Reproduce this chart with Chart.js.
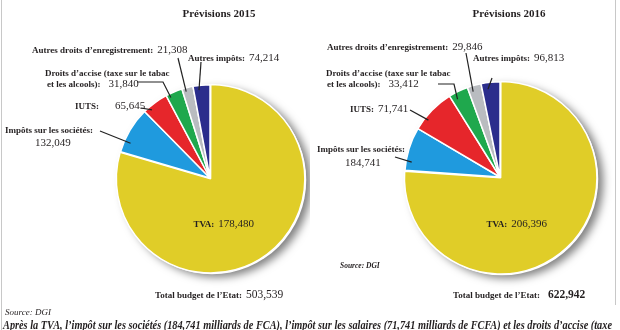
<!DOCTYPE html>
<html>
<head>
<meta charset="utf-8">
<script src="https://cdn.jsdelivr.net/npm/chart.js@4/dist/chart.umd.min.js"></script>
<style>
html, body { margin: 0; padding: 0; background: #fff; }
#page { position: relative; width: 620px; height: 330px; overflow: hidden; font-family: "Liberation Serif", "DejaVu Serif", serif; color: #231f20; }
canvas { position: absolute; top: 0; }
.t { position: absolute; white-space: nowrap; line-height: 12px; }
.b { font-weight: bold; font-size: 9px; }
.n { font-size: 11px; }
.title { font-weight: bold; font-size: 11px; }
.frame { position: absolute; top: 0; width: 1px; background: #c8c8c8; }
</style>
</head>
<body>
<div id="page">
  <div class="frame" style="left:1px;height:330px"></div>
  <div class="frame" style="left:615px;height:305px"></div>
  <div id="wrapL" style="position:absolute;left:0;top:0;width:310px;height:330px"><canvas id="pie2015"></canvas></div>
  <div id="wrapR" style="position:absolute;left:310px;top:0;width:310px;height:330px"><canvas id="pie2016"></canvas></div>
</div>
<script>
const categories = ['TVA', 'Impôts sur les sociétés', 'IUTS', 'Droits d’accise (taxe sur le tabac et les alcools)', 'Autres droits d’enregistrement', 'Autres impôts'];
const values2015 = [178480, 132049, 65645, 31840, 21308, 74214];
const values2016 = [206396, 184741, 71741, 33412, 29846, 96813];
const totals = [503539, 622942];
const years = ['2015', '2016'];
// angle (degrees) each slice takes in the original drawing, not proportional to the values
const shares2015 = [286, 29, 16.5, 10.5, 7, 10.5];
const shares2016 = [274, 26.5, 27.5, 12, 8.5, 11.5];
const colors = ['#e0cd28', '#1f9ade', '#e6262b', '#1fa84d', '#b9bcc0', '#2b2d8c'];

const fmt = v => v.toLocaleString('en-US');

// leader lines: slice index, start points (page coords), t = position inside slice, f = radius fraction
const leaders = {
    '2015': [
        { i: 4, pts: [[178, 58]], t: 0.3, f: 0.96 },
        { i: 5, pts: [[201, 62]], t: 0.32, f: 0.95 },
        { i: 3, pts: [[137, 82], [163, 82]], t: 0.2, f: 0.96 },
        { i: 2, pts: [[141, 108]], t: 0.25, f: 0.96 },
        { i: 1, pts: [[100, 131]], t: 0.25, f: 0.93 }
    ],
    '2016': [
        { i: 4, pts: [[466, 53]], t: 0.3, f: 0.94 },
        { i: 5, pts: [[492, 78]], t: 0.32, f: 0.93 },
        { i: 3, pts: [[438, 84], [454, 84]], t: 0.28, f: 0.93 },
        { i: 2, pts: [[410, 110]], t: 0.29, f: 0.96 },
        { i: 1, pts: [[395, 157]], t: 0.21, f: 0.94 }
    ]
};

const shadowPlugin = {
    id: 'pieShadow',
    beforeDatasetsDraw(chart) {
        const arc = chart.getDatasetMeta(0).data[0];
        const ctx = chart.ctx;
        ctx.save();
        ctx.shadowColor = 'rgba(0,0,0,0.5)';
        ctx.shadowBlur = 8;
        ctx.shadowOffsetX = 5;
        ctx.shadowOffsetY = 3;
        ctx.fillStyle = '#fff';
        ctx.beginPath();
        ctx.arc(arc.x + 2, arc.y + 2, arc.outerRadius + 1, 0, Math.PI * 2);
        ctx.fill();
        ctx.restore();
    }
};

const leaderPlugin = {
    id: 'leaders',
    afterDatasetsDraw(chart, args, opts) {
        const arcs = chart.getDatasetMeta(0).data;
        const ctx = chart.ctx;
        ctx.save();
        ctx.strokeStyle = '#222';
        ctx.lineWidth = 1.2;
        opts.list.forEach(l => {
            const a = arcs[l.i];
            const ang = a.startAngle + (a.endAngle - a.startAngle) * l.t;
            const r = a.outerRadius * l.f;
            ctx.beginPath();
            l.pts.forEach((p, k) => {
                const x = p[0] - opts.dx;
                if (k === 0) ctx.moveTo(x, p[1]); else ctx.lineTo(x, p[1]);
            });
            ctx.lineTo(a.x + Math.cos(ang) * r, a.y + Math.sin(ang) * r);
            ctx.stroke();
        });
        ctx.restore();
    }
};

function makePie(id, shares, padding, year, dx) {
    return new Chart(document.getElementById(id), {
        type: 'pie',
        data: {
            labels: categories,
            datasets: [{
                data: shares,
                backgroundColor: colors,
                borderColor: '#fff',
                borderWidth: 1.5,
                offset: [4, 0, 0, 0, 0, 0]
            }]
        },
        options: {
            responsive: true,
            maintainAspectRatio: false,
            animation: false,
            layout: { padding: padding },
            plugins: {
                legend: { display: false },
                tooltip: { enabled: false },
                leaders: { list: leaders[year], dx: dx }
            }
        },
        plugins: [shadowPlugin, leaderPlugin]
    });
}

makePie('pie2015', shares2015, { left: 114, right: 4, top: 82, bottom: 56 }, '2015', 0);
makePie('pie2016', shares2016, { left: 92, right: 22, top: 79, bottom: 55 }, '2016', 310);

// text labels
const page = document.getElementById('page');
function addText(html, x, cy, cls, extra) {
    const d = document.createElement('div');
    d.className = 't ' + (cls || '');
    d.innerHTML = html;
    d.style.left = x + 'px';
    d.style.top = (cy - 6) + 'px';
    if (extra) Object.assign(d.style, extra);
    page.appendChild(d);
    return d;
}
function centerText(html, cx, cy, cls) {
    const d = addText(html, 0, cy, cls);
    d.style.left = (cx - d.offsetWidth / 2) + 'px';
    return d;
}
const B = s => '<span class="b">' + s + '</span>';
const N = s => '<span class="n">' + s + '</span>';
const accise = categories[3].split(' et ');

function labels(vals, pos) {
    addText(B(categories[4] + ':') + ' ' + N(fmt(vals[4])), pos.droits[0], pos.droits[1]);
    addText(B(categories[5] + ':') + ' ' + N(fmt(vals[5])), pos.autres[0], pos.autres[1]);
    addText(B(accise[0]), pos.accise[0], pos.accise[1]);
    addText(B('et ' + accise[1] + ':') + '&nbsp;&nbsp;' + N(fmt(vals[3])), pos.accise2[0], pos.accise2[1]);
    addText(B(categories[2] + ':') + pos.iutsGap + N(fmt(vals[2])), pos.iuts[0], pos.iuts[1]);
    addText(B(categories[1] + ':'), pos.soc[0], pos.soc[1]);
    addText(N(fmt(vals[1])), pos.soc2[0], pos.soc2[1]);
    centerText(B(categories[0] + ':') + ' ' + N(fmt(vals[0])), pos.tva[0], pos.tva[1]);
}

centerText('Prévisions ' + years[0], 219, 13, 'title');
centerText('Prévisions ' + years[1], 509, 13, 'title');

labels(values2015, {
    droits: [32, 48], autres: [188, 56], accise: [45, 71], accise2: [47, 82],
    iuts: [75, 104], iutsGap: '&nbsp;&nbsp;&nbsp;&nbsp;', soc: [5, 128], soc2: [35, 141], tva: [224, 222]
});
labels(values2016, {
    droits: [327, 45], autres: [473, 56], accise: [326, 71], accise2: [327, 82],
    iuts: [350, 107], iutsGap: ' ', soc: [317, 147], soc2: [345, 161], tva: [517, 222]
});

addText(B('Total budget de l’Etat:') + ' <span class="n" style="font-size:11.5px">' + fmt(totals[0]) + '</span>', 155, 293);
addText(B('Total budget de l’Etat:') + '&nbsp;&nbsp;<span class="n" style="font-size:11.5px;font-weight:bold">' + fmt(totals[1]) + '</span>', 453, 293);
addText('Source: DGI', 340, 266, '', { fontStyle: 'italic', fontWeight: 'bold', fontSize: '7.5px' });
addText('Source: DGI', 5, 312, '', { fontStyle: 'italic', fontSize: '9px' });

const note = addText('Après la TVA, l’impôt sur les sociétés (184,741 milliards de FCA), l’impôt sur les salaires (71,741 milliards de FCFA) et les droits d’accise (taxe',
    3, 325, '', { fontStyle: 'italic', fontWeight: 'bold', fontSize: '12px', transformOrigin: '0 0' });
note.style.transform = 'scaleX(' + (609 / note.offsetWidth) + ')';
</script>
</body>
</html>
